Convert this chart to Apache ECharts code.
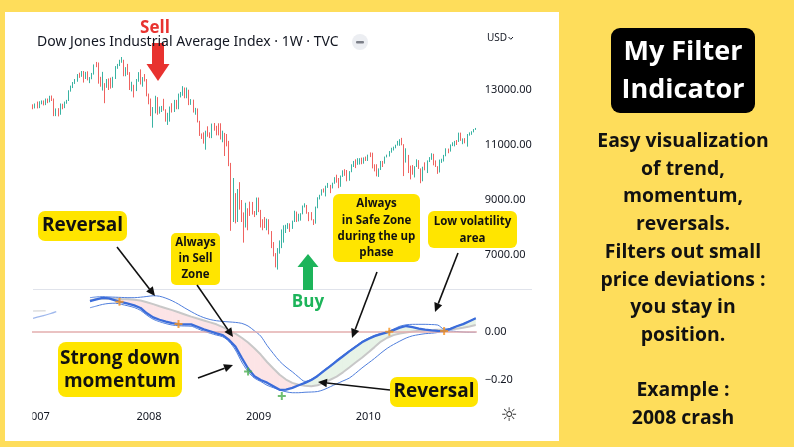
<!DOCTYPE html>
<html><head><meta charset="utf-8">
<script src="https://cdn.jsdelivr.net/npm/echarts/dist/echarts.min.js"></script>
<style>
html,body{margin:0;padding:0;background:#FEDD5B;overflow:hidden;}
#panel{position:absolute;left:5px;top:12px;width:554px;height:429px;background:#fff;}
#c{position:absolute;left:0;top:0;width:794px;height:447px;}
</style></head><body><div id="panel"></div><div id="c"></div>
<script>
// ---------- DATA ----------
const firstWeek = '2006-12-18';           // Monday of first weekly candle
const yearTicks = ['2007','2008','2009','2010'];
// weekly candles [open, close, low, high] (DJIA, 1W)
const candles2006 = [[12440,12343,12300,12480],[12343,12463,12330,12510]];
const candles2007 = [
[12463,12398,12330,12580],[12398,12556,12340,12590],[12556,12565,12480,12620],[12565,12487,12440,12620],
[12487,12653,12450,12690],[12653,12580,12520,12690],[12580,12767,12550,12790],[12767,12647,12600,12800],
[12647,12114,12050,12690],[12114,12276,12050,12330],[12276,12110,12040,12340],[12110,12481,12100,12510],
[12481,12354,12300,12500],[12354,12560,12340,12580],[12560,12612,12500,12640],[12612,12961,12600,12990],
[12961,13120,12940,13160],[13120,13265,13070,13290],[13265,13327,13220,13400],[13327,13556,13300,13580],
[13556,13507,13440,13630],[13507,13668,13480,13690],[13668,13424,13270,13690],[13424,13639,13400,13660],
[13639,13361,13350,13680],[13361,13408,13250,13470],[13408,13612,13390,13620],[13612,13907,13560,13930],
[13907,13851,13830,14020],[13851,13266,13230,14000],[13266,13182,13120,13480],[13182,13239,12980,13660],
[13239,13079,12520,13250],[13079,13379,13080,13400],[13379,13358,13000,13420],[13358,13113,13050,13450],
[13113,13442,13080,13480],[13442,13820,13400,13870],[13820,13896,13770,13950],[13896,14066,13870,14100],
[14066,14093,13990,14200],[14093,13522,13500,14100],[13522,13806,13500,13830],[13806,13595,13550,13950],
[13595,13042,13000,13650],[13042,13176,12950,13300],[13176,12980,12730,13190],[12980,13372,12960,13400],
[13372,13625,13300,13650],[13625,13339,13200,13750],[13339,13450,13120,13470],[13450,13366,13310,13580],
[13366,12800,12770,13400]];
const candles2008 = [
[12800,12606,12480,12870],[12606,12099,12050,12690],[12099,12207,11630,12380],[12207,12743,12150,12790],
[12743,12183,12100,12740],[12183,12348,12140,12400],[12348,12381,12200,12420],[12381,12266,12250,12680],
[12266,11894,11850,12300],[11894,11951,11730,12170],[11951,12361,11850,12400],[12361,12216,12180,12520],
[12216,12610,12200,12640],[12610,12325,12300,12640],[12325,12849,12300,12870],[12849,12891,12730,12930],
[12891,13058,12790,13140],[13058,12745,12700,13090],[12745,12986,12700,13090],[12986,12480,12450,13010],
[12480,12638,12460,12670],[12638,12209,12180,12650],[12209,12307,12100,12350],[12307,11843,11820,12330],
[11843,11347,11330,11880],[11347,11288,11220,11420],[11288,11100,11050,11460],[11100,11497,10830,11520],
[11497,11370,11300,11680],[11370,11326,11250,11460],[11326,11734,11250,11780],[11734,11659,11520,11800],
[11659,11628,11350,11700],[11628,11543,11350,11790],[11543,11220,11200,11790],[11220,11421,11100,11520],
[11421,11388,10600,11440],[11388,11143,10950,11400],[11143,10325,10230,11150],[10325,8451,7880,10350],
[8451,8852,8200,9800],[8852,8378,8150,9250],[8378,9325,8200,9400],[9325,8943,8650,9650],
[8943,8497,8200,9000],[8497,8046,7450,8550],[8046,8829,8000,8900],[8829,8635,7900,8700],
[8635,8629,8420,8940],[8629,8579,8470,8930],[8579,8515,8380,8600],[8515,9034,8450,9090]];
const candles2009 = [
[9034,8599,8560,9090],[8599,8281,8000,8640],[8281,8077,7900,8300],[8077,8000,7980,8380],
[8000,8280,7900,8320],[8280,7850,7750,8300],[7850,7366,7250,7870],[7366,7062,6950,7470],
[7062,6627,6550,7070],[6627,7224,6470,7250],[7224,7278,7050,7530],[7278,7776,7250,7930],
[7776,8017,7450,8080],[8017,8083,7800,8100],[8083,8131,7950,8160],[8131,8076,7840,8150],
[8076,8212,7950,8250],[8212,8575,8200,8610],[8575,8268,8200,8580],[8268,8277,8220,8500],
[8277,8500,8250,8520],[8500,8764,8480,8800],[8764,8799,8730,8880],[8799,8539,8500,8820],
[8539,8438,8230,8560],[8438,8280,8260,8560],[8280,8146,8090,8300],[8146,8743,8140,8760],
[8743,9093,8700,9100],[9093,9171,9020,9190],[9171,9370,9160,9390],[9370,9321,9270,9420],
[9321,9505,9130,9520],[9505,9544,9440,9620],[9544,9441,9250,9550],[9441,9605,9420,9630],
[9605,9820,9590,9830],[9820,9665,9630,9920],[9665,9487,9430,9800],[9487,9864,9480,9890],
[9864,9995,9840,10080],[9995,9972,9880,10120],[9972,9712,9680,10090],[9712,10023,9700,10050],
[10023,10270,10010,10300],[10270,10318,10200,10420],[10318,10309,10160,10480],[10309,10388,10280,10520],
[10388,10471,10290,10520],[10471,10329,10300,10540],[10329,10520,10320,10550],[10520,10428,10420,10580]];
const candles2010 = [
[10428,10618,10420,10650],[10618,10609,10560,10730],[10609,10172,10150,10720],[10172,10067,10040,10300],
[10067,10012,9860,10300],[10012,10099,9840,10150],[10099,10402,10090,10420],[10402,10325,10200,10420],
[10325,10566,10320,10580],[10566,10624,10550,10650],[10624,10742,10580,10780],[10742,10850,10720,10900],
[10850,10927,10800,10940],[10927,10997,10880,11010],[10997,11019,10980,11150],[11019,11204,10970,11210],
[11204,11009,10990,11260],[11009,10380,9870,11030],[10380,10620,10360,10880],[10620,10193,9980,10640],
[10193,10137,9750,10250],[10137,9931,9920,10270],[9931,10212,9820,10230],[10212,10450,10200,10480],
[10450,10144,10130,10450],[10144,9686,9610,10150],[9686,10198,9680,10210],[10198,10098,10080,10370],
[10098,10425,9980,10440],[10425,10466,10380,10560],[10466,10654,10460,10700],[10654,10303,10260,10680],
[10303,10213,10200,10440],[10213,10150,9950,10230],[10150,10448,10000,10470],[10448,10462,10350,10500],
[10462,10608,10400,10640],[10608,10860,10590,10880],[10860,10830,10700,10870],[10830,11006,10760,11020],
[11006,11063,10960,11100],[11063,11133,10950,11150],[11133,11118,11000,11180],[11118,11445,11110,11450],
[11445,11193,11150,11450],[11193,11204,11030,11240],[11204,11092,11060,11250],[11092,11382,10940,11400],
[11382,11410,11340,11460],[11410,11492,11370,11500],[11492,11573,11460,11580],[11573,11578,11550,11620]];

// indicator (week index, values)
const indicatorWeeks = [27,30,33,36,39,42,45,48,51,54,57,60,63,66,69,72,75,78,81,84,87,90,93,96,99,102,105,108,111,114,117,120,123,126,129,132,135,138,141,144,147,150,153,156,159,162,165,168,171,174,177,180,183,186,189,192,195,198,201,204,207,210];
const fastLine = [0.129,0.136,0.142,0.140,0.132,0.124,0.118,0.111,0.100,0.078,0.061,0.051,0.043,0.037,0.033,0.032,0.032,0.022,0.011,0.003,-0.006,-0.013,-0.033,-0.061,-0.108,-0.152,-0.184,-0.200,-0.211,-0.226,-0.241,-0.240,-0.233,-0.222,-0.212,-0.200,-0.183,-0.162,-0.142,-0.121,-0.101,-0.081,-0.062,-0.043,-0.029,-0.017,-0.009,-0.002,0.008,0.018,0.025,0.020,0.014,0.010,0.007,0.005,0.004,0.013,0.024,0.033,0.045,0.057];
const slowLine = [0.132,0.136,0.139,0.140,0.139,0.137,0.136,0.134,0.131,0.124,0.116,0.107,0.099,0.091,0.082,0.073,0.064,0.056,0.048,0.040,0.032,0.020,0.007,-0.007,-0.024,-0.044,-0.068,-0.094,-0.125,-0.152,-0.178,-0.198,-0.212,-0.220,-0.224,-0.226,-0.222,-0.212,-0.199,-0.186,-0.168,-0.148,-0.127,-0.107,-0.085,-0.063,-0.040,-0.024,-0.013,-0.006,-0.002,0.002,0.005,0.007,0.008,0.009,0.009,0.011,0.014,0.018,0.023,0.029];
const upperBand = [0.143,0.146,0.147,0.146,0.145,0.144,0.143,0.143,0.145,0.148,0.151,0.149,0.141,0.130,0.116,0.100,0.085,0.071,0.060,0.052,0.047,0.044,0.042,0.040,0.036,0.025,0.005,-0.017,-0.056,-0.090,-0.122,-0.146,-0.166,-0.188,-0.206,-0.197,-0.180,-0.159,-0.139,-0.118,-0.098,-0.078,-0.059,-0.040,-0.026,-0.014,-0.006,0.001,0.012,0.024,0.030,0.032,0.032,0.032,0.031,0.029,0.012,0.015,0.025,0.034,0.046,0.058];
const lowerBand = [0.101,0.108,0.115,0.119,0.120,0.115,0.109,0.102,0.090,0.070,0.053,0.043,0.035,0.029,0.026,0.025,0.024,0.014,0.003,-0.005,-0.013,-0.020,-0.040,-0.075,-0.125,-0.165,-0.192,-0.206,-0.222,-0.232,-0.242,-0.249,-0.253,-0.253,-0.251,-0.250,-0.248,-0.240,-0.228,-0.216,-0.204,-0.192,-0.172,-0.150,-0.130,-0.110,-0.088,-0.068,-0.052,-0.038,-0.025,-0.016,-0.011,-0.007,-0.005,-0.002,0.004,0.004,0.002,0.000,-0.001,-0.001];
const warmupWeeks = [0,4,8,11];
const warmupFast = [0.057,0.066,0.076,0.085];
const warmupSlowWeeks = [0,6];
const warmupSlow = [0.088,0.089];
const orangeCrossWeeks = [41,69,169,195];
const orangeCrossValues = [0.126,0.033,0.001,0.004];
const greenCrossWeeks = [102,118];
const greenCrossValues = [-0.165,-0.267];
const priceTicks = [7000,9000,11000,13000];
const indicatorTicks = [0,-0.2];

// ---------- BUILD ----------
const candles = [].concat(candles2006, candles2007, candles2008, candles2009, candles2010);
const weekDates = [];
const t0 = Date.parse(firstWeek + 'T00:00:00Z');
for (let i = 0; i < candles.length; i++) {
  weekDates.push(new Date(t0 + i*7*86400000).toISOString().slice(0,10));
}
const yearStartIdx = {};
weekDates.forEach((d, i) => { const y = d.slice(0,4); if (yearTicks.includes(y) && yearStartIdx[y] === undefined) yearStartIdx[y] = i; });
const yearStartSet = new Set(Object.values(yearStartIdx));
const pairs = (ws, vs) => ws.map((w, k) => [w, vs[k]]);
const fillSegs = [];
for (let k = 0; k < indicatorWeeks.length - 1; k++) fillSegs.push([indicatorWeeks[k], fastLine[k], k]);

const GREEN_FILL = 'rgba(120,190,120,0.18)', PINK_FILL = 'rgba(240,120,130,0.20)';
const FONT = 'Open Sans';

function txt(x, y, text, size, color, weight, align, lh, family) {
  return {type:'text', x, y, z:110, style:{text, fill:color, fontSize:size, fontWeight:weight||'normal',
    fontFamily:family||FONT, textAlign:align||'center', textVerticalAlign:'middle', lineHeight:lh||size*1.2}};
}
function rect(x, y, w, h, r, fill, z) { return {type:'rect', z:z||100, shape:{x, y, width:w, height:h, r}, style:{fill}}; }
function arrow(x1, y1, x2, y2) {
  const a = Math.atan2(y2-y1, x2-x1), L = 9, W = 4.2;
  const bx = x2 - L*Math.cos(a), by = y2 - L*Math.sin(a);
  return [
    {type:'line', z:105, shape:{x1, y1, x2:bx, y2:by}, style:{stroke:'#111', lineWidth:1.6}},
    {type:'polygon', z:105, shape:{points:[[x2,y2],[bx+W*Math.sin(a), by-W*Math.cos(a)],[bx-W*Math.sin(a), by+W*Math.cos(a)]]}, style:{fill:'#111'}}
  ];
}
const YEL = '#FFE500';
const graphics = [].concat(
  [ // header
    rect(146, 31, 24, 18, 0, '#fff', 60),
    txt(37, 42, 'Dow Jones Industrial Average Index · 1W · TVC', 14, '#131722', 'normal', 'left', 16, 'Noto Sans'),
    {type:'circle', z:60, shape:{cx:360, cy:42, r:8}, style:{fill:'#eceef2'}},
    {type:'rect', z:61, shape:{x:356, y:41, width:8, height:2.4, r:1}, style:{fill:'#7c7f88'}},
    txt(487, 38, 'USD', 10, '#131722', 'normal', 'left', 12, 'Noto Sans'),
    {type:'polyline', z:61, shape:{points:[[508.5,37],[510.8,39.3],[513,37]]}, style:{stroke:'#131722', lineWidth:1, fill:null}},
    {type:'line', z:0, shape:{x1:33, y1:289.5, x2:532, y2:289.5}, style:{stroke:'#e0e3eb', lineWidth:1}},
    rect(5, 405, 27.5, 25, 0, '#fff', 60),
    txt(509, 416, '☼', 19, '#333', 'normal', 'center', 19, 'DejaVu Sans'),
    // Sell arrow
    rect(152, 43, 12, 23, 0, '#e8322f', 70),
    {type:'polygon', z:70, shape:{points:[[146.5,64],[169.5,64],[158,81]]}, style:{fill:'#e8322f'}},
    txt(155, 28, 'Sell', 17, '#e8322f', 'bold'),
    // Buy arrow
    rect(303, 266, 10, 24, 0, '#1db45a', 70),
    {type:'polygon', z:70, shape:{points:[[297.5,267],[318.5,267],[308,254]]}, style:{fill:'#1db45a'}},
    txt(308, 302, 'Buy', 17, '#1db45a', 'bold'),
    // annotation boxes
    rect(38, 211, 89, 30, 7, YEL), txt(82.5, 226, 'Reversal', 19, '#111', 'bold'),
    rect(171, 233, 49, 52, 5, YEL), txt(195.5, 259, 'Always\nin Sell\nZone', 11.5, '#111', 'bold', 'center', 16),
    rect(333, 194, 87, 68, 6, YEL), txt(376.5, 228.5, 'Always\nin Safe Zone\nduring the up\nphase', 11.5, '#111', 'bold', 'center', 16.3),
    rect(428, 211, 89, 37, 6, YEL), txt(472.5, 230, 'Low volatility\narea', 11.5, '#111', 'bold', 'center', 16.6),
    rect(58, 342, 124, 55, 8, YEL), txt(120, 370, 'Strong down\nmomentum', 19, '#111', 'bold', 'center', 23.4),
    rect(390, 377, 88, 30, 7, YEL), txt(434, 392, 'Reversal', 19, '#111', 'bold'),
    // right panel
    rect(611, 28, 144, 85, 9, '#000'),
    txt(683, 71, 'My Filter\nIndicator', 27, '#fff', 'bold', 'center', 38),
    txt(683, 280, 'Easy visualization\nof trend,\nmomentum,\nreversals.\nFilters out small\nprice deviations :\nyou stay in\nposition.\n\nExample :\n2008 crash', 19.4, '#111', 'bold', 'center', 27.7)
  ],
  arrow(117, 247, 155, 296), arrow(197, 285, 233, 337), arrow(198, 378, 233, 365),
  arrow(377, 272, 352, 338), arrow(458, 253, 435, 312), arrow(390, 390, 318, 382)
);

const chart = echarts.init(document.getElementById('c'), null, {renderer:'canvas'});
const plus = 'path://M3,0H5V3H8V5H5V8H3V5H0V3H3Z';
chart.setOption({
  animation:false,
  backgroundColor:'transparent',
  textStyle:{fontFamily:'Noto Sans'},
  grid:[
    {left:32, width:444.8, top:35, height:275, outerBoundsMode:'none', containLabel:false},
    {left:32, width:444.8, top:284, height:120, outerBoundsMode:'none', containLabel:false}
  ],
  xAxis:[
    {type:'category', gridIndex:0, data:weekDates, show:false, boundaryGap:true},
    {type:'category', gridIndex:1, data:weekDates, boundaryGap:true,
     axisLine:{show:false}, axisTick:{show:false}, splitLine:{show:false},
     axisLabel:{interval:(i) => yearStartSet.has(i), formatter:(v) => v.slice(0,4), color:'#131722', fontSize:11, margin:7, fontFamily:'Noto Sans'}}
  ],
  yAxis:[
    {type:'value', gridIndex:0, position:'right', min:5000, max:15000, interval:2000, scale:false,
     axisLine:{show:false}, axisTick:{show:false}, splitLine:{show:false},
     axisLabel:{margin:8, color:'#131722', fontSize:11, fontFamily:'Noto Sans',
       formatter:(v) => priceTicks.includes(v) ? v.toFixed(2) : ''}},
    {type:'value', gridIndex:1, position:'right', min:-0.3, max:0.2, interval:0.1,
     axisLine:{show:false}, axisTick:{show:false}, splitLine:{show:false},
     axisLabel:{margin:8, color:'#131722', fontSize:11, fontFamily:'Noto Sans',
       formatter:(v) => { const t = indicatorTicks.find(k => Math.abs(k - v) < 1e-6); return t === undefined ? '' : (t < 0 ? '\u2212' + Math.abs(t).toFixed(2) : t.toFixed(2)); }}}
  ],
  graphic:{elements:graphics},
  series:[
    {type:'candlestick', xAxisIndex:0, yAxisIndex:0, data:candles, barWidth:1.3,
     itemStyle:{color:'#3ab3a3', color0:'#ef6360', borderColor:'#3ab3a3', borderColor0:'#ef6360', borderWidth:1}},
    {type:'line', xAxisIndex:1, yAxisIndex:1, data:[], z:1, silent:true,
     markLine:{silent:true, symbol:'none', label:{show:false}, data:[{yAxis:0}], lineStyle:{color:'#e3aeae', width:1.6, type:'solid'}}},
    {type:'custom', xAxisIndex:1, yAxisIndex:1, z:1, silent:true, data:fillSegs, encode:{x:0, y:1},
     renderItem:(params, api) => {
       const k = params.dataIndex;
       const w0 = indicatorWeeks[k], w1 = indicatorWeeks[k+1];
       const f0 = fastLine[k], f1 = fastLine[k+1], s0 = slowLine[k], s1 = slowLine[k+1];
       const A = api.coord([w0, f0]), B = api.coord([w1, f1]), C = api.coord([w1, s1]), D = api.coord([w0, s0]);
       const d0 = f0 - s0, d1 = f1 - s1;
       const col = (d) => d >= 0 ? GREEN_FILL : PINK_FILL;
       const ch = [];
       if (d0 * d1 >= 0) {
         ch.push({type:'polygon', shape:{points:[A,B,C,D]}, style:{fill:col(d0 + d1)}});
       } else {
         const r = d0 / (d0 - d1);
         const P = [A[0] + (B[0]-A[0])*r, A[1] + (B[1]-A[1])*r];
         ch.push({type:'polygon', shape:{points:[A,P,D]}, style:{fill:col(d0)}});
         ch.push({type:'polygon', shape:{points:[P,B,C]}, style:{fill:col(d1)}});
       }
       return {type:'group', children:ch};
     }},
    {type:'line', xAxisIndex:1, yAxisIndex:1, data:pairs(warmupWeeks, warmupFast), symbol:'none', z:2, smooth:true,
     lineStyle:{color:'rgba(80,125,220,0.55)', width:1.2}},
    {type:'line', xAxisIndex:1, yAxisIndex:1, data:pairs(warmupSlowWeeks, warmupSlow), symbol:'none', z:2,
     lineStyle:{color:'rgba(200,200,200,0.6)', width:1.5}},
    {type:'line', xAxisIndex:1, yAxisIndex:1, data:pairs(indicatorWeeks, slowLine), symbol:'none', z:3,
     lineStyle:{color:'#c8c8c8', width:2}},
    {type:'line', xAxisIndex:1, yAxisIndex:1, data:pairs(indicatorWeeks, upperBand), symbol:'none', z:4, smooth:0.3,
     lineStyle:{color:'#4f7edc', width:1}},
    {type:'line', xAxisIndex:1, yAxisIndex:1, data:pairs(indicatorWeeks, lowerBand), symbol:'none', z:4, smooth:0.3,
     lineStyle:{color:'#4f7edc', width:1}},
    {type:'line', xAxisIndex:1, yAxisIndex:1, data:pairs(indicatorWeeks, fastLine), symbol:'none', z:5,
     lineStyle:{color:'#3b6cda', width:2.3}},
    {type:'scatter', xAxisIndex:1, yAxisIndex:1, data:pairs(orangeCrossWeeks, orangeCrossValues), symbol:plus, symbolSize:8, z:6,
     itemStyle:{color:'#f7931e'}},
    {type:'scatter', xAxisIndex:1, yAxisIndex:1, data:pairs(greenCrossWeeks, greenCrossValues), symbol:plus, symbolSize:8, z:6,
     itemStyle:{color:'#4caf50'}}
  ]
});
</script></body></html>
